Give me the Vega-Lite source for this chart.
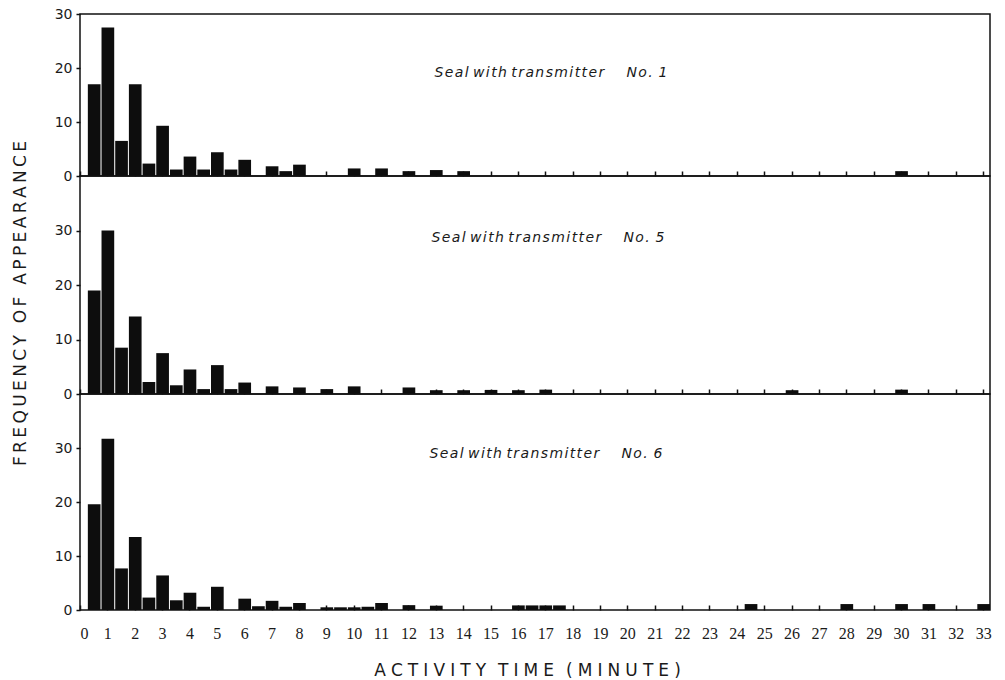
{
  "$schema": "https://vega.github.io/schema/vega-lite/v6.json",
  "background": "white",
  "padding": {"left": 10, "top": 6, "right": 10, "bottom": 0},
  "spacing": 0,
  "bounds": "flush",
  "datasets": {
    "seal1": [
      {"from_min": 0.25, "freq": 17}, {"from_min": 0.75, "freq": 27.5}, {"from_min": 1.25, "freq": 6.5},
      {"from_min": 1.75, "freq": 17}, {"from_min": 2.25, "freq": 2.3}, {"from_min": 2.75, "freq": 9.3},
      {"from_min": 3.25, "freq": 1.2}, {"from_min": 3.75, "freq": 3.6}, {"from_min": 4.25, "freq": 1.2},
      {"from_min": 4.75, "freq": 4.4}, {"from_min": 5.25, "freq": 1.2}, {"from_min": 5.75, "freq": 3},
      {"from_min": 6.75, "freq": 1.8}, {"from_min": 7.25, "freq": 0.9}, {"from_min": 7.75, "freq": 2.1},
      {"from_min": 9.75, "freq": 1.4}, {"from_min": 10.75, "freq": 1.4}, {"from_min": 11.75, "freq": 0.9},
      {"from_min": 12.75, "freq": 1.1}, {"from_min": 13.75, "freq": 0.9}, {"from_min": 29.75, "freq": 0.9}
    ],
    "seal5": [
      {"from_min": 0.25, "freq": 19}, {"from_min": 0.75, "freq": 30}, {"from_min": 1.25, "freq": 8.5},
      {"from_min": 1.75, "freq": 14.2}, {"from_min": 2.25, "freq": 2.2}, {"from_min": 2.75, "freq": 7.5},
      {"from_min": 3.25, "freq": 1.6}, {"from_min": 3.75, "freq": 4.5}, {"from_min": 4.25, "freq": 0.9},
      {"from_min": 4.75, "freq": 5.3}, {"from_min": 5.25, "freq": 0.9}, {"from_min": 5.75, "freq": 2.1},
      {"from_min": 6.75, "freq": 1.4}, {"from_min": 7.75, "freq": 1.2}, {"from_min": 8.75, "freq": 0.9},
      {"from_min": 9.75, "freq": 1.4}, {"from_min": 11.75, "freq": 1.2}, {"from_min": 12.75, "freq": 0.7},
      {"from_min": 13.75, "freq": 0.7}, {"from_min": 14.75, "freq": 0.75}, {"from_min": 15.75, "freq": 0.7},
      {"from_min": 16.75, "freq": 0.8}, {"from_min": 25.75, "freq": 0.7}, {"from_min": 29.75, "freq": 0.8}
    ],
    "seal6": [
      {"from_min": 0.25, "freq": 19.6}, {"from_min": 0.75, "freq": 31.7}, {"from_min": 1.25, "freq": 7.7},
      {"from_min": 1.75, "freq": 13.5}, {"from_min": 2.25, "freq": 2.3}, {"from_min": 2.75, "freq": 6.4},
      {"from_min": 3.25, "freq": 1.8}, {"from_min": 3.75, "freq": 3.2}, {"from_min": 4.25, "freq": 0.6},
      {"from_min": 4.75, "freq": 4.3}, {"from_min": 5.75, "freq": 2.1}, {"from_min": 6.25, "freq": 0.7},
      {"from_min": 6.75, "freq": 1.7}, {"from_min": 7.25, "freq": 0.6}, {"from_min": 7.75, "freq": 1.3},
      {"from_min": 8.75, "freq": 0.5}, {"from_min": 9.25, "freq": 0.5}, {"from_min": 9.75, "freq": 0.5},
      {"from_min": 10.25, "freq": 0.6}, {"from_min": 10.75, "freq": 1.3}, {"from_min": 11.75, "freq": 0.9},
      {"from_min": 12.75, "freq": 0.8}, {"from_min": 15.75, "freq": 0.85}, {"from_min": 16.25, "freq": 0.85},
      {"from_min": 16.75, "freq": 0.85}, {"from_min": 17.25, "freq": 0.85}, {"from_min": 24.25, "freq": 1.1},
      {"from_min": 27.75, "freq": 1.1}, {"from_min": 29.75, "freq": 1.1}, {"from_min": 30.75, "freq": 1.1},
      {"from_min": 32.75, "freq": 1.1}
    ]
  },
  "vconcat": [
    {
      "width": 910,
      "height": 162,
      "layer": [
        {
          "data": {"name": "seal1"},
          "mark": {"type": "bar", "color": "#0d0d0d", "clip": true},
          "encoding": {
            "x": {
              "field": "from_min", "type": "quantitative", "bin": {"binned": true, "step": 0.5},
              "scale": {"domain": [0, 33.25], "nice": false, "zero": false},
              "axis": {"values": [0,1,2,3,4,5,6,7,8,9,10,11,12,13,14,15,16,17,18,19,20,21,22,23,24,25,26,27,28,29,30,31,32,33], "labels": false, "tickSize": -5, "title": null}
            },
            "y": {
              "field": "freq", "type": "quantitative",
              "scale": {"domain": [0, 30], "nice": false},
              "axis": {"values": [0, 10, 20, 30], "title": null}
            }
          }
        },
        {
          "data": {"values": [{"label": "S\u200ae\u200aa\u200al\u00a0w\u200ai\u200at\u200ah\u00a0t\u200ar\u200aa\u200an\u200as\u200am\u200ai\u200at\u200at\u200ae\u200ar\u00a0\u00a0\u00a0\u00a0\u00a0N\u200ao\u200a.\u00a0\u200a1"}]},
          "mark": {"type": "text", "align": "left", "baseline": "middle", "font": "DejaVu Sans", "fontStyle": "italic", "fontSize": 14, "color": "#1a1a1a"},
          "encoding": {
            "x": {"datum": 12.95, "type": "quantitative"},
            "y": {"datum": 19, "type": "quantitative"},
            "text": {"field": "label"}
          }
        }
      ]
    },
    {
      "width": 910,
      "height": 218,
      "layer": [
        {
          "data": {"name": "seal5"},
          "mark": {"type": "bar", "color": "#0d0d0d", "clip": true},
          "encoding": {
            "x": {
              "field": "from_min", "type": "quantitative", "bin": {"binned": true, "step": 0.5},
              "scale": {"domain": [0, 33.25], "nice": false, "zero": false},
              "axis": {"values": [0,1,2,3,4,5,6,7,8,9,10,11,12,13,14,15,16,17,18,19,20,21,22,23,24,25,26,27,28,29,30,31,32,33], "labels": false, "tickSize": -5, "title": null}
            },
            "y": {
              "field": "freq", "type": "quantitative",
              "scale": {"domain": [0, 40], "nice": false},
              "axis": {
                "values": [0, 10, 20, 30],
                "title": "F\u2009R\u2009E\u2009Q\u2009U\u2009E\u2009N\u2009C\u2009Y\u2002\u2009O\u2009F\u2002\u2009A\u2009P\u2009P\u2009E\u2009A\u2009R\u2009A\u2009N\u2009C\u2009E",
                "titleFont": "DejaVu Sans", "titleFontSize": 17, "titleFontWeight": "normal", "titleColor": "#1a1a1a",
                "titleX": -55, "titleY": 127, "titleBaseline": "alphabetic", "titleAngle": -90, "titleAlign": "center"
              }
            }
          }
        },
        {
          "data": {"values": [{"label": "S\u200ae\u200aa\u200al\u00a0w\u200ai\u200at\u200ah\u00a0t\u200ar\u200aa\u200an\u200as\u200am\u200ai\u200at\u200at\u200ae\u200ar\u00a0\u00a0\u00a0\u00a0\u00a0N\u200ao\u200a.\u00a0\u200a5"}]},
          "mark": {"type": "text", "align": "left", "baseline": "middle", "font": "DejaVu Sans", "fontStyle": "italic", "fontSize": 14, "color": "#1a1a1a"},
          "encoding": {
            "x": {"datum": 12.84, "type": "quantitative"},
            "y": {"datum": 28.6, "type": "quantitative"},
            "text": {"field": "label"}
          }
        }
      ]
    },
    {
      "width": 910,
      "height": 216,
      "layer": [
        {
          "data": {"name": "seal6"},
          "mark": {"type": "bar", "color": "#0d0d0d", "clip": true},
          "encoding": {
            "x": {
              "field": "from_min", "type": "quantitative", "bin": {"binned": true, "step": 0.5},
              "scale": {"domain": [0, 33.25], "nice": false, "zero": false},
              "axis": {
                "values": [0,1,2,3,4,5,6,7,8,9,10,11,12,13,14,15,16,17,18,19,20,21,22,23,24,25,26,27,28,29,30,31,32,33],
                "tickSize": -5, "labelPadding": 20, "format": "d",
                "labelFont": "Liberation Sans Narrow", "labelFontSize": 16, "labelColor": "#1a1a1a",
                "title": "A\u2009\u200aC\u2009\u200aT\u2009\u200aI\u2009\u200aV\u2009\u200aI\u2009\u200aT\u2009\u200aY\u2002\u2009T\u2009\u200aI\u2009\u200aM\u2009\u200aE\u2002\u2009(\u2009\u200aM\u2009\u200aI\u2009\u200aN\u2009\u200aU\u2009\u200aT\u2009\u200aE\u2009\u200a)",
                "titleFont": "DejaVu Sans", "titleFontSize": 17, "titleFontWeight": "normal", "titleColor": "#1a1a1a",
                "titleX": 447, "titleY": 65, "titleBaseline": "alphabetic", "titleAlign": "center"
              }
            },
            "y": {
              "field": "freq", "type": "quantitative",
              "scale": {"domain": [0, 40], "nice": false},
              "axis": {"values": [0, 10, 20, 30], "title": null}
            }
          }
        },
        {
          "data": {"values": [{"label": "S\u200ae\u200aa\u200al\u00a0w\u200ai\u200at\u200ah\u00a0t\u200ar\u200aa\u200an\u200as\u200am\u200ai\u200at\u200at\u200ae\u200ar\u00a0\u00a0\u00a0\u00a0\u00a0N\u200ao\u200a.\u00a0\u200a6"}]},
          "mark": {"type": "text", "align": "left", "baseline": "middle", "font": "DejaVu Sans", "fontStyle": "italic", "fontSize": 14, "color": "#1a1a1a"},
          "encoding": {
            "x": {"datum": 12.77, "type": "quantitative"},
            "y": {"datum": 28.9, "type": "quantitative"},
            "text": {"field": "label"}
          }
        }
      ]
    }
  ],
  "config": {
    "view": {"stroke": "#111", "strokeWidth": 1.5},
    "axis": {
      "grid": false, "domain": false,
      "tickColor": "#111", "tickWidth": 1.5,
      "labelFont": "DejaVu Sans", "labelFontSize": 14, "labelColor": "#1a1a1a"
    },
    "axisY": {"tickSize": 4, "labelPadding": 4},
    "bar": {"stroke": null}
  }
}
